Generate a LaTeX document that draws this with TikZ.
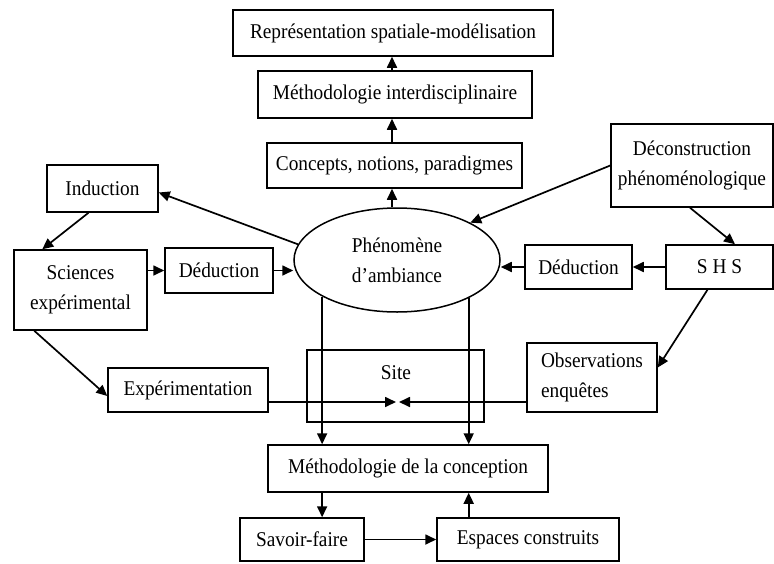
\documentclass[tikz,border=0pt]{standalone}
\usepackage{fontspec}
\setmainfont[FakeStretch=0.92]{Liberation Serif}
\usetikzlibrary{arrows.meta,shapes.geometric,calc}
\begin{document}
\begin{tikzpicture}[x=1pt,y=-1pt,
  txt/.style={font=\fontsize{21}{30}\selectfont},
  box/.style={txt,draw,line width=1.5pt,inner sep=0pt,align=center},
  arr/.style={line width=1.7pt,-{Triangle[length=11pt,width=10pt]}}]
\useasboundingbox (0,0) rectangle (774,563);

% central column
\node[box,minimum width=320pt,minimum height=46pt] (rep) at (393,33) {Représentation spatiale-modélisation};
\node[box,minimum width=274pt,minimum height=47pt] (meth) at (395,94.5) {Méthodologie interdisciplinaire};
\node[box,minimum width=255pt,minimum height=45pt] (conc) at (394.5,165.5) {Concepts, notions, paradigmes};
\node[txt,draw,ellipse,line width=1.5pt,inner sep=0pt,align=center,
      minimum width=206pt,minimum height=104pt] (ell) at (397,260) {Phénomène\\d’ambiance};

% left branch
\node[box,minimum width=111pt,minimum height=47pt] (ind) at (102.5,188.5) {Induction};
\node[box,minimum width=133pt,minimum height=80pt] (sci) at (80.5,290) {Sciences\\expérimental};
\node[box,minimum width=108pt,minimum height=45pt] (dedl) at (219,270.5) {Déduction};
\node[box,minimum width=160pt,minimum height=44pt] (exp) at (188,390) {Expérimentation};

% right branch
\node[box,minimum width=162pt,minimum height=83pt] (dec) at (692,165.5) {Déconstruction\\phénoménologique};
\node[box,minimum width=107pt,minimum height=44pt] (shs) at (719.5,267) {S H S};
\node[box,minimum width=107pt,minimum height=44pt] (dedr) at (578.5,267) {Déduction};
\node[box,align=left,minimum width=130pt,minimum height=69pt] (obs) at (592,377.5) {Observations\\enquêtes};

% site and design
\node[draw,line width=1.5pt,inner sep=0pt,minimum width=177pt,minimum height=72pt] (site) at (395.5,386) {};
\node[txt] (sitelbl) at (396,373) {Site};
\node[box,minimum width=280pt,minimum height=47pt] (mdc) at (408,468.5) {Méthodologie de la conception};
\node[box,minimum width=124pt,minimum height=43pt] (sav) at (302,539.5) {Savoir-faire};
\node[box,minimum width=182pt,minimum height=43pt] (esp) at (528,539.5) {Espaces construits};

\coordinate (axis) at (392,0);
\coordinate (mid) at (397.5,402);

% upward chain
\draw[arr] (axis |- ell.north) -- (axis |- conc.south);
\draw[arr] (axis |- conc.north) -- (axis |- meth.south);
\draw[arr] (axis |- meth.north) -- (axis |- rep.south);

% left connectors
\draw[arr] (ell.171) -- ($(ind.east)+(0,4)$);
\draw[arr] ($(ind.south)+(-14,0)$) -- ($(sci.north west)+(29,0)$);
\draw[arr] (sci.east |- dedl.west) -- (dedl.west);
\draw[arr] (dedl.east) -- (dedl.east -| ell.west);
\draw[arr] ($(sci.south west)+(21,0)$) -- ($(exp.west)+(0,6)$);

% right connectors
\draw[arr] (dec.west) -- (ell.27);
\draw[arr] ($(dec.south)+(-2,0)$) -- ($(shs.north)+(15.5,0)$);
\draw[arr] (shs.west) -- (dedr.east);
\draw[arr] (dedr.west) -- (dedr.west -| ell.east);
\draw[arr] ($(shs.south)+(-12,0)$) -- ($(obs.east)+(0,-10)$);

% towards the site
\draw[arr] (exp.east |- mid) -- ($(mid)+(-1.5,0)$);
\draw[arr] (obs.west |- mid) -- ($(mid)+(1.5,0)$);

% down to the design methodology
\draw[arr] (ell.206) -- (ell.206 |- mdc.north);
\draw[arr] (ell.332) -- (ell.332 |- mdc.north);
\draw[arr] (mdc.south -| ell.206) -- (sav.north -| ell.206);
\draw[arr] (sav.east) -- (esp.west);
\draw[arr] (esp.north -| ell.332) -- (mdc.south -| ell.332);
\end{tikzpicture}
\end{document}
